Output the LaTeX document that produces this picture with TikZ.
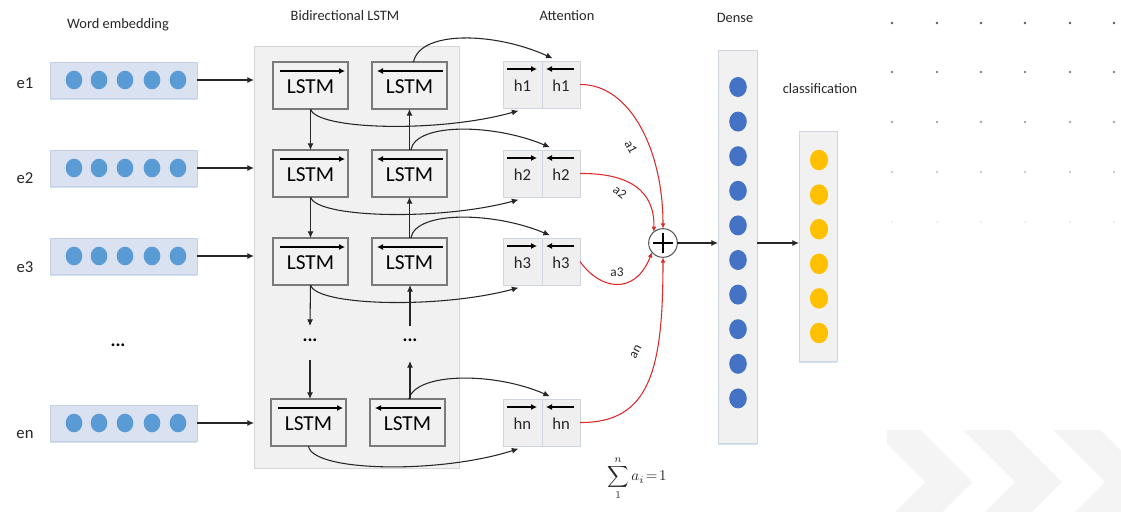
\documentclass[tikz,border=0pt]{standalone}
\usepackage{fontspec}
\setmainfont{Carlito}
\usetikzlibrary{arrows.meta,fit,shapes.geometric,shadows,calc}

\definecolor{embfill}{HTML}{DAE2F1}
\definecolor{embdraw}{HTML}{C5D0E4}
\definecolor{embdot}{HTML}{5B9BD5}
\definecolor{densedot}{HTML}{4472C4}
\definecolor{classdot}{HTML}{FFC000}
\definecolor{panelfill}{HTML}{F1F1F1}
\definecolor{paneldraw}{HTML}{D6D6D6}
\definecolor{lstmdraw}{HTML}{7A7A7A}
\definecolor{cellfill}{HTML}{EFEFEF}
\definecolor{celldraw}{HTML}{CFD5DD}
\definecolor{glow}{HTML}{BDD7EE}
\definecolor{attn}{HTML}{DC2A2A}
\definecolor{ink}{HTML}{262626}
\definecolor{chev}{HTML}{F4F4F4}

\tikzset{
  base/.style={inner sep=0pt, outer sep=0pt},
  title/.style={base, font=\fontsize{10.8}{12}\selectfont, text=ink},
  rowlabel/.style={base, font=\fontsize{12.5}{14}\selectfont, text=ink},
  embbox/.style={base, rectangle, fill=embfill, draw=embdraw, line width=0.6pt,
    drop shadow={shadow xshift=0pt, shadow yshift=-1.3pt, fill=glow, opacity=0.7}},
  edot/.style={base, ellipse, fill=embdot, minimum width=12.5pt, minimum height=14pt},
  ddot/.style={base, ellipse, fill=densedot, minimum width=13.2pt, minimum height=15pt},
  cdot/.style={base, ellipse, fill=classdot, minimum width=13.6pt, minimum height=15.4pt},
  panelbox/.style={base, rectangle, fill=panelfill, draw=paneldraw, line width=0.6pt},
  lstmbox/.style={base, rectangle, fill=panelfill, draw=lstmdraw, line width=0.9pt},
  lstmtext/.style={base, font=\fontsize{16}{18}\selectfont, text=black},
  cellbox/.style={base, rectangle, fill=cellfill, draw=celldraw, line width=0.6pt,
    drop shadow={shadow xshift=0pt, shadow yshift=-1pt, fill=glow, opacity=0.5}},
  celltext/.style={base, font=\fontsize{12.5}{14}\selectfont, text=ink},
  colbox/.style={base, rectangle, fill=panelfill, draw=celldraw, line width=0.6pt,
    drop shadow={shadow xshift=0pt, shadow yshift=-1.3pt, fill=glow, opacity=0.7}},
  flow/.style={line width=0.8pt, draw=black!85, -{Latex[length=5pt,width=4.5pt]}},
  bar/.style={line width=0.8pt, draw=black, -{Latex[length=4.5pt,width=4.5pt]}},
  weight/.style={line width=0.8pt, draw=attn, -{Latex[length=4pt,width=3.6pt]}},
  wlabel/.style={base, font=\fontsize{10}{11}\selectfont, text=ink},
}

% bidirectional LSTM cell: name, left, top, direction (f or b)
\newcommand\lstmcell[4]{%
  \node[lstmbox, fit={(#2,#3) (#2+75,#3+47)}] (#1) {};
  \node[lstmtext] at ([yshift=-1pt]#1.center) {LSTM};
  \if#4f
    \draw[bar] (#2+7,#3+9) -- (#2+72,#3+9);
  \else
    \draw[bar] (#2+71,#3+9) -- (#2+5,#3+9);
  \fi
}

% attention state pair: name prefix, top, index text
\newcommand\statepair[3]{%
  \node[cellbox, fit={(503,#2) (542,#2+47)}] (#1f) {};
  \node[cellbox, fit={(542,#2) (580,#2+47)}] (#1b) {};
  \node[celltext] at ([yshift=-0.8pt]#1f.center) {h#3};
  \node[celltext] at ([yshift=-0.8pt]#1b.center) {h#3};
  \draw[bar] (507,#2+8) -- (537,#2+8);
  \draw[bar] (574,#2+8) -- (546,#2+8);
}

% embedding vector: name, top, centre y
\newcommand\embrow[3]{%
  \node[embbox, fit={(50,#2) (197,#2+36)}] (#1) {};
  \foreach \i/\xx in {1/74,2/99,3/125,4/152,5/178}
    \node[edot] (#1-\i) at (\xx,#3) {};
}

\begin{document}
\begin{tikzpicture}[x=0.75pt, y=-0.75pt]
\useasboundingbox (0,0) rectangle (1121,511);

% decorative background: dot grid and chevrons
\foreach \yy/\cc in {23/black!65, 72/black!50, 122/black!35, 172/black!20, 222/black!6}
  \foreach \xx in {892,937,981,1025,1070,1114}
    \fill[\cc] (\xx,\yy) circle [radius=1.3];
\begin{scope}
  \clip (887,430) rectangle (1121,511);
  \foreach \a in {873,963,1053}
    \fill[chev] (\a,430) -- (\a+47,430) -- (\a+99,482) -- (\a+47,534)
      -- (\a,534) -- (\a+52,482) -- cycle;
\end{scope}

% column titles
\node[title] (tWord) at (118,25) {Word embedding};
\node[title] (tBi) at (345,16) {Bidirectional LSTM};
\node[title] (tAtt) at (567,16) {Attention};
\node[title] (tDense) at (735,18) {Dense};
\node[title] (tClass) at (820,89) {classification};

% word embeddings
\embrow{E1}{62}{80}
\embrow{E2}{150}{168}
\embrow{E3}{238}{256}
\embrow{En}{405}{423}
\node[rowlabel] (l1) at (25,83) {e1};
\node[rowlabel] (l2) at (25,178) {e2};
\node[rowlabel] (l3) at (25,267) {e3};
\node[rowlabel] (ln) at (25,435) {en};
\node[base, font=\fontsize{14}{14}\selectfont\bfseries] (edots) at (118,345) {...};

% bidirectional LSTM panel
\node[panelbox, fit={(254,46) (459,468)}] (panel) {};
\lstmcell{F1}{273}{62}{f}
\lstmcell{B1}{372}{62}{b}
\lstmcell{F2}{273}{150}{f}
\lstmcell{B2}{372}{150}{b}
\lstmcell{F3}{273}{238}{f}
\lstmcell{B3}{372}{238}{b}
\lstmcell{Fn}{271}{399}{f}
\lstmcell{Bn}{370}{399}{b}
\node[base, font=\fontsize{14}{14}\selectfont\bfseries] (fdots) at (310,340) {...};
\node[base, font=\fontsize{14}{14}\selectfont\bfseries] (bdots) at (410,340) {...};

% inputs into the panel
\foreach \e in {E1,E2,E3,En}
  \draw[flow] (\e.east) -- (\e.east -| panel.west);

% forward chain (downwards) and backward chain (upwards)
\draw[flow] (F1.south) -- (F2.north);
\draw[flow] (F2.south) -- (F3.north);
\draw[flow] (F3.south) -- (310,326);
\coordinate (fgap) at (310,360);
\draw[flow] (fgap) -- (fgap |- Fn.north);
\draw[flow] (B2.north) -- (B1.south);
\draw[flow] (B3.north) -- (B2.south);
\coordinate (bgap) at (410,326);
\draw[flow] (bgap) -- (bgap |- B3.south);
\draw[flow] (Bn.north -| bgap) -- (410,361);

% attention states
\statepair{H1}{61}{1}
\statepair{H2}{150}{2}
\statepair{H3}{238}{3}
\statepair{Hn}{399}{n}

% LSTM outputs to the states
\draw[flow] (F1.south) .. controls (316,130) and (440,133) .. ([xshift=-3pt,yshift=-2pt]H1f.south);
\draw[flow] (F2.south) .. controls (316,218) and (440,221) .. ([xshift=-3pt,yshift=-2pt]H2f.south);
\draw[flow] (F3.south) .. controls (316,306) and (440,309) .. ([xshift=-3pt,yshift=-2pt]H3f.south);
\draw[flow] (Fn.south) .. controls (312,472) and (440,474) .. ([xshift=-3pt,yshift=-2pt]Hnf.south);
\draw[flow] ([xshift=3pt]B1.north) .. controls (420,30) and (495,32) .. ([xshift=8pt,yshift=2pt]H1f.north east);
\draw[flow] ([xshift=1pt]B2.north) .. controls (416,122) and (495,124) .. ([xshift=6pt,yshift=2pt]H2f.north east);
\draw[flow] ([xshift=1pt]B3.north) .. controls (416,210) and (495,212) .. ([xshift=6pt,yshift=2pt]H3f.north east);
\draw[flow] ([xshift=1pt]Bn.north) .. controls (416,372) and (495,372) .. ([xshift=6pt,yshift=2pt]Hnf.north east);

% weighted sum
\node[base, circle, draw=black!65, fill=white, line width=0.8pt, minimum size=21.5pt] (sum) at (663,243) {};
\draw[line width=0.9pt, black] ([yshift=-3pt]sum.north) -- ([yshift=3pt]sum.south);
\draw[line width=0.9pt, black] ([xshift=3pt]sum.west) -- ([xshift=-3pt]sum.east);

\draw[weight] (H1b.east) .. controls (630,84) and (663,150) .. (sum.north);
\draw[weight] (H2b.east) .. controls (628,173) and (655,190) .. (sum.130);
\draw[weight] (H3b.east) .. controls (600,290) and (635,296) .. (sum.220);
\draw[weight] (Hnb.east) .. controls (650,423) and (663,370) .. (sum.south);
\node[wlabel, rotate=-62] (w1) at (631,147) {a1};
\node[wlabel, rotate=-38] (w2) at (620,192) {a2};
\node[wlabel] (w3) at (617,272) {a3};
\node[wlabel, rotate=62] (wn) at (636,352) {an};
\node[base, text=ink, scale=1.12] (norm) at (637,478) {$\displaystyle\sum_{1}^{n} a_i\! =\! 1$};

% dense layer
\node[colbox, fit={(718,50) (757,443)}] (dense) {};
\foreach \k in {0,...,9}
  \node[ddot] (D\k) at (738,87+34.6*\k) {};
\draw[flow] (sum.east) -- (sum.east -| dense.west);

% classification layer
\node[colbox, fit={(799,131) (837,361)}] (cls) {};
\foreach \k in {0,...,5}
  \node[cdot] (C\k) at (819,160+34.6*\k) {};
\draw[flow] (dense.east |- sum) -- (cls.west |- sum);

\end{tikzpicture}
\end{document}
